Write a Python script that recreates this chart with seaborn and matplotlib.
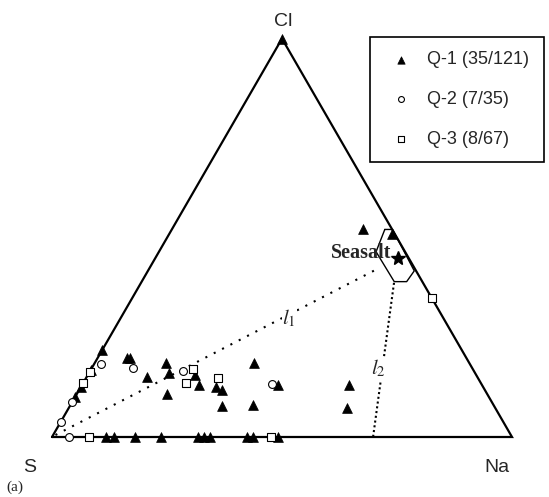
import numpy as np
import pandas as pd
import matplotlib
matplotlib.use("Agg")
import matplotlib.pyplot as plt
import seaborn as sns

# -----------------------------
# Data: ternary composition in %, S = 100 - Na - Cl
# -----------------------------
q1_na = [0, 0, 0, 0, 6.3, 7.0, 15.4, 17.4, 13.1, 23.3, 25.5, 19.7, 29.3, 31.1,
         33.1, 34.7, 39.6, 42.5, 58.0, 60.4,
         11.7, 13.5, 18.0, 23.8, 31.8, 33.1, 34.3, 42.3, 43.8, 49.2,
         41.6, 48.5, 0]
q1_cl = [21.8, 16.8, 12.6, 10.0, 19.8, 19.8, 18.6, 16.1, 15.1, 15.6, 13.1, 10.8, 12.6, 11.8,
         7.8, 18.6, 8.0, 13.1, 13.1, 7.3,
         0, 0, 0, 0, 0, 0, 0, 0, 0, 0,
         52.2, 51.0, 100]

q2_na = [0, 0, 1.4, 8.9, 20.1, 41.1, 3.8]
q2_cl = [3.8, 8.8, 18.3, 17.3, 16.6, 13.3, 0]

q3_na = [0, 0, 22.2, 22.3, 28.7, 8.0, 47.5, 65.0]
q3_cl = [16.4, 13.6, 17.1, 13.6, 14.9, 0, 0, 35.0]

labels = ["Q-1 (35/121)", "Q-2 (7/35)", "Q-3 (8/67)"]

seasalt_na, seasalt_cl = 52.8, 44.9
hex_na = [46.3, 48.0, 57.9, 57.6, 54.9, 47.2]
hex_cl = [52.1, 52.1, 41.7, 39.0, 39.0, 46.5]

l1_na, l1_cl = [0.5, 50.0], [0.5, 42.5]
l2_na, l2_cl = [55.0, 69.8], [38.7, 0]

corner_na = [0, 100, 0, 0]
corner_cl = [0, 0, 100, 0]


def tern(na, cl):
    na = np.asarray(na, dtype=float) / 100
    cl = np.asarray(cl, dtype=float) / 100
    return na + cl / 2, cl * np.sqrt(3) / 2


def frame(na, cl, group):
    x, y = tern(na, cl)
    return pd.DataFrame({"x": x, "y": y, "group": group})


# -----------------------------
# Style
# -----------------------------
sns.set_theme(style="white")
plt.rcParams["font.family"] = ["Liberation Sans", "DejaVu Sans"]
plt.rcParams["mathtext.fontset"] = "stix"

fig = plt.figure(figsize=(5.49, 4.97), dpi=100)
ax = fig.add_axes([0, 0, 1, 1])
ax.set_xlim(-52 / 460, 497 / 460)
ax.set_ylim(-60 / 460, 437 / 460)
ax.set_axis_off()

# triangle
tx, ty = tern(corner_na, corner_cl)
ax.plot(tx, ty, color="black", lw=1.6, solid_joinstyle="miter", zorder=2)

# guide lines
x1, y1 = tern(l1_na, l1_cl)
ax.plot(x1, y1, color="black", lw=1.5, ls=(0, (1, 3.5)), zorder=1)
x2, y2 = tern(l2_na, l2_cl)
ax.plot(x2, y2, color="black", lw=1.5, ls=(0, (1, 1.3)), zorder=1)

# seasalt region
hx, hy = tern(hex_na + hex_na[:1], hex_cl + hex_cl[:1])
ax.plot(hx, hy, color="black", lw=1.0, zorder=2)
sx, sy = tern([seasalt_na], [seasalt_cl])
ax.plot(sx, sy, marker="*", color="black", ms=10, ls="none", zorder=4)
ax.text(sx[0] - 0.015, sy[0] + 0.012, "Seasalt", ha="right", va="center",
        family="Liberation Serif", fontweight="bold", fontsize=14.5, zorder=5)

# points
d1 = frame(q1_na, q1_cl, labels[0])
d2 = frame(q2_na, q2_cl, labels[1])
d3 = frame(q3_na, q3_cl, labels[2])
sns.scatterplot(data=d1, x="x", y="y", marker="^", s=50, color="black",
                edgecolor="black", linewidth=0.5, label=labels[0], ax=ax, zorder=3, clip_on=False)
sns.scatterplot(data=d2, x="x", y="y", marker="o", s=32, color="white",
                edgecolor="black", linewidth=0.8, label=labels[1], ax=ax, zorder=3, clip_on=False)
sns.scatterplot(data=d3, x="x", y="y", marker="s", s=30, color="white",
                edgecolor="black", linewidth=0.8, label=labels[2], ax=ax, zorder=3, clip_on=False)

# line labels
lx, ly = tern([36.6], [29.9])
ax.text(lx[0], ly[0], "$l_1$", ha="center", va="center", fontsize=15,
        bbox=dict(fc="white", ec="none", pad=0.5), zorder=2)
lx, ly = tern([62.4], [17.3])
ax.text(lx[0], ly[0], "$l_2$", ha="center", va="center", fontsize=15,
        bbox=dict(fc="white", ec="none", pad=0.5), zorder=2)

# corner labels
fig.text(283 / 549, 1 - 21 / 497, "Cl", ha="center", va="center", fontsize=14)
fig.text(30 / 549, 1 - 467 / 497, "S", ha="center", va="center", fontsize=14)
fig.text(497 / 549, 1 - 467 / 497, "Na", ha="center", va="center", fontsize=14)
fig.text(15 / 549, 1 - 487 / 497, "(a)", ha="center", va="center", fontsize=11,
         family="Liberation Serif")

leg = ax.legend(loc="upper left", bbox_to_anchor=(370 / 549, 1 - 37 / 497),
                bbox_transform=fig.transFigure, frameon=True, fancybox=False,
                edgecolor="black", framealpha=1, fontsize=13, markerscale=0.75,
                borderpad=0.8, handlelength=1.84, handletextpad=0.53, labelspacing=1.25,
                borderaxespad=0)
leg.get_frame().set_linewidth(1.2)

fig.savefig("out.png", dpi=100)
plt.close()
